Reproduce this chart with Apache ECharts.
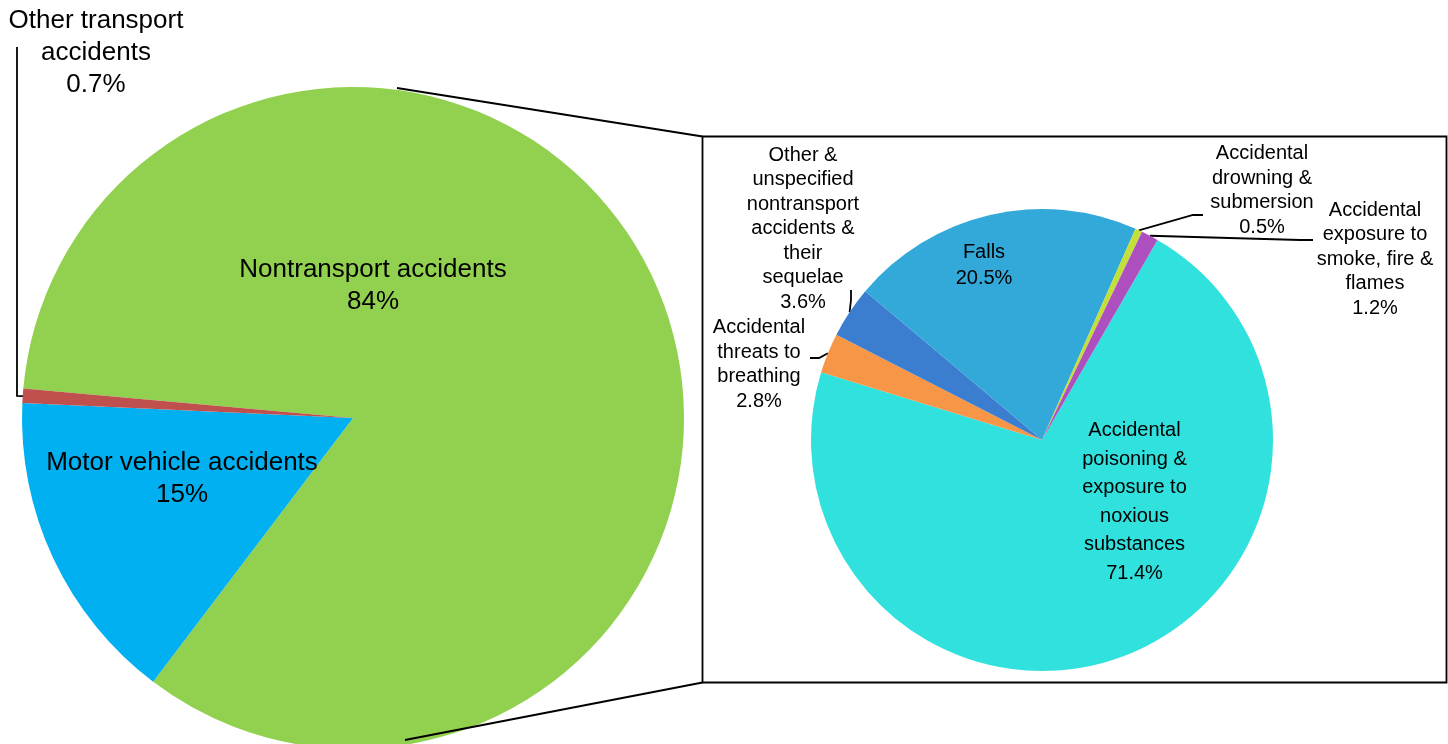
<!DOCTYPE html>
<html><head><meta charset="utf-8">
<script src="https://cdn.jsdelivr.net/npm/echarts@6/dist/echarts.min.js"></script>
<style>html,body{margin:0;padding:0;background:#fff}#chart{width:1448px;height:744px}</style>
</head><body><div id="chart"></div>
<script>
// ---- data ----
const leftCategories = ['Nontransport accidents', 'Motor vehicle accidents', 'Other transport accidents'];
const leftValues = [83.9, 15.4, 0.7];
const leftLabels = ['Nontransport accidents\n84%', 'Motor vehicle accidents\n15%', 'Other transport\naccidents\n0.7%'];

const rightCategories = [
  'Accidental poisoning & exposure to noxious substances',
  'Accidental threats to breathing',
  'Other & unspecified nontransport accidents & their sequelae',
  'Falls',
  'Accidental drowning & submersion',
  'Accidental exposure to smoke, fire & flames'
];
const rightValues = [71.4, 2.8, 3.6, 20.5, 0.5, 1.2];
const rightLabels = [
  'Accidental\npoisoning &\nexposure to\nnoxious\nsubstances\n71.4%',
  'Accidental\nthreats to\nbreathing\n2.8%',
  'Other &\nunspecified\nnontransport\naccidents &\ntheir\nsequelae\n3.6%',
  'Falls\n20.5%',
  'Accidental\ndrowning &\nsubmersion\n0.5%',
  'Accidental\nexposure to\nsmoke, fire &\nflames\n1.2%'
];

// ---- layout / style ----
const FONT = '"Liberation Sans", Arial, Helvetica, sans-serif';
const LEFT = { cx: 353, cy: 418, r: 331, start: 174.9 };
const RIGHT = { cx: 1042, cy: 440, r: 231, start: 60 };
const leftColors = ['#92D050', '#00B0F0', '#C0504D'];
const rightColors = ['#30E1DD', '#F79646', '#3B7ED0', '#33A9DA', '#C3E03A', '#AE4FBF'];
const LINE_W = 1.8;

const leftLayout = [
  { x: 373, y: 286, inside: true },
  { x: 182, y: 479, inside: true },
  { x: 96, y: 53, inset: 0.95, line: [[17, 396], [17, 47]] }
];
const rightLayout = [
  { x: 1134.5, y: 502, inside: true, lh: 28.5 },
  { x: 759, y: 364.5, line: [[819, 358], [810, 358]] },
  { x: 803, y: 228.5, line: [[851, 300], [851, 290]] },
  { x: 984, y: 265.5, inside: true, lh: 25.5 },
  { x: 1262, y: 190.5, line: [[1193, 215], [1203, 215]] },
  { x: 1375, y: 259, line: [[1300, 240], [1313, 240]] }
];

function anchorPoint(geo, values, i, inset) {
  const total = values.reduce((a, b) => a + b, 0);
  let cum = 0;
  for (let k = 0; k < i; k++) cum += values[k];
  const frac = (cum + values[i] / 2) / total;
  const compass = (90 - geo.start + frac * 360) * Math.PI / 180;
  const r = geo.r * (inset || 1);
  return [geo.cx + r * Math.sin(compass), geo.cy - r * Math.cos(compass)];
}

function buildData(cats, vals, labels, colors, layout, fontSize, lineHeight) {
  return cats.map((c, i) => ({
    name: c,
    value: vals[i],
    itemStyle: { color: colors[i] },
    label: {
      show: true,
      position: layout[i].inside ? 'inside' : 'outside',
      formatter: labels[i],
      fontSize: fontSize,
      lineHeight: layout[i].lh || lineHeight,
      color: '#000',
      fontFamily: FONT
    },
    labelLine: { show: !layout[i].inside, lineStyle: { color: '#000', width: LINE_W } }
  }));
}

function makeLayoutFn(geo, values, layout) {
  return function (params) {
    const cfg = layout[params.dataIndex];
    const out = { x: cfg.x, y: cfg.y, align: 'center', verticalAlign: 'middle' };
    if (cfg.line) {
      out.labelLinePoints = [anchorPoint(geo, values, params.dataIndex, cfg.inset)].concat(cfg.line);
    }
    return out;
  };
}

const chart = echarts.init(document.getElementById('chart'), null, { renderer: 'canvas' });
chart.setOption({
  animation: false,
  backgroundColor: '#fff',
  series: [
    {
      type: 'pie',
      center: [LEFT.cx, LEFT.cy],
      radius: [0, LEFT.r],
      startAngle: LEFT.start,
      clockwise: true,
      avoidLabelOverlap: false,
      minAngle: 0,
      silent: true,
      itemStyle: { borderWidth: 0 },
      emphasis: { disabled: true },
      labelLine: { lineStyle: { color: '#000', width: LINE_W }, length: 4, length2: 4 },
      labelLayout: makeLayoutFn(LEFT, leftValues, leftLayout),
      data: buildData(leftCategories, leftValues, leftLabels, leftColors, leftLayout, 26, 32)
    },
    {
      type: 'pie',
      center: [RIGHT.cx, RIGHT.cy],
      radius: [0, RIGHT.r],
      startAngle: RIGHT.start,
      clockwise: true,
      avoidLabelOverlap: false,
      minAngle: 0,
      silent: true,
      itemStyle: { borderWidth: 0 },
      emphasis: { disabled: true },
      labelLine: { lineStyle: { color: '#000', width: LINE_W }, length: 4, length2: 4 },
      labelLayout: makeLayoutFn(RIGHT, rightValues, rightLayout),
      data: buildData(rightCategories, rightValues, rightLabels, rightColors, rightLayout, 20, 24.5)
    }
  ],
  graphic: [
    { type: 'rect', silent: true, z: 100,
      shape: { x: 702.5, y: 136.5, width: 744, height: 546 },
      style: { fill: 'none', stroke: '#000', lineWidth: LINE_W } },
    { type: 'line', silent: true, z: 100,
      shape: { x1: 397, y1: 88, x2: 702.5, y2: 136.5 },
      style: { stroke: '#000', lineWidth: LINE_W } },
    { type: 'line', silent: true, z: 100,
      shape: { x1: 405, y1: 740, x2: 702.5, y2: 682.5 },
      style: { stroke: '#000', lineWidth: LINE_W } }
  ]
});
</script>
</body></html>
